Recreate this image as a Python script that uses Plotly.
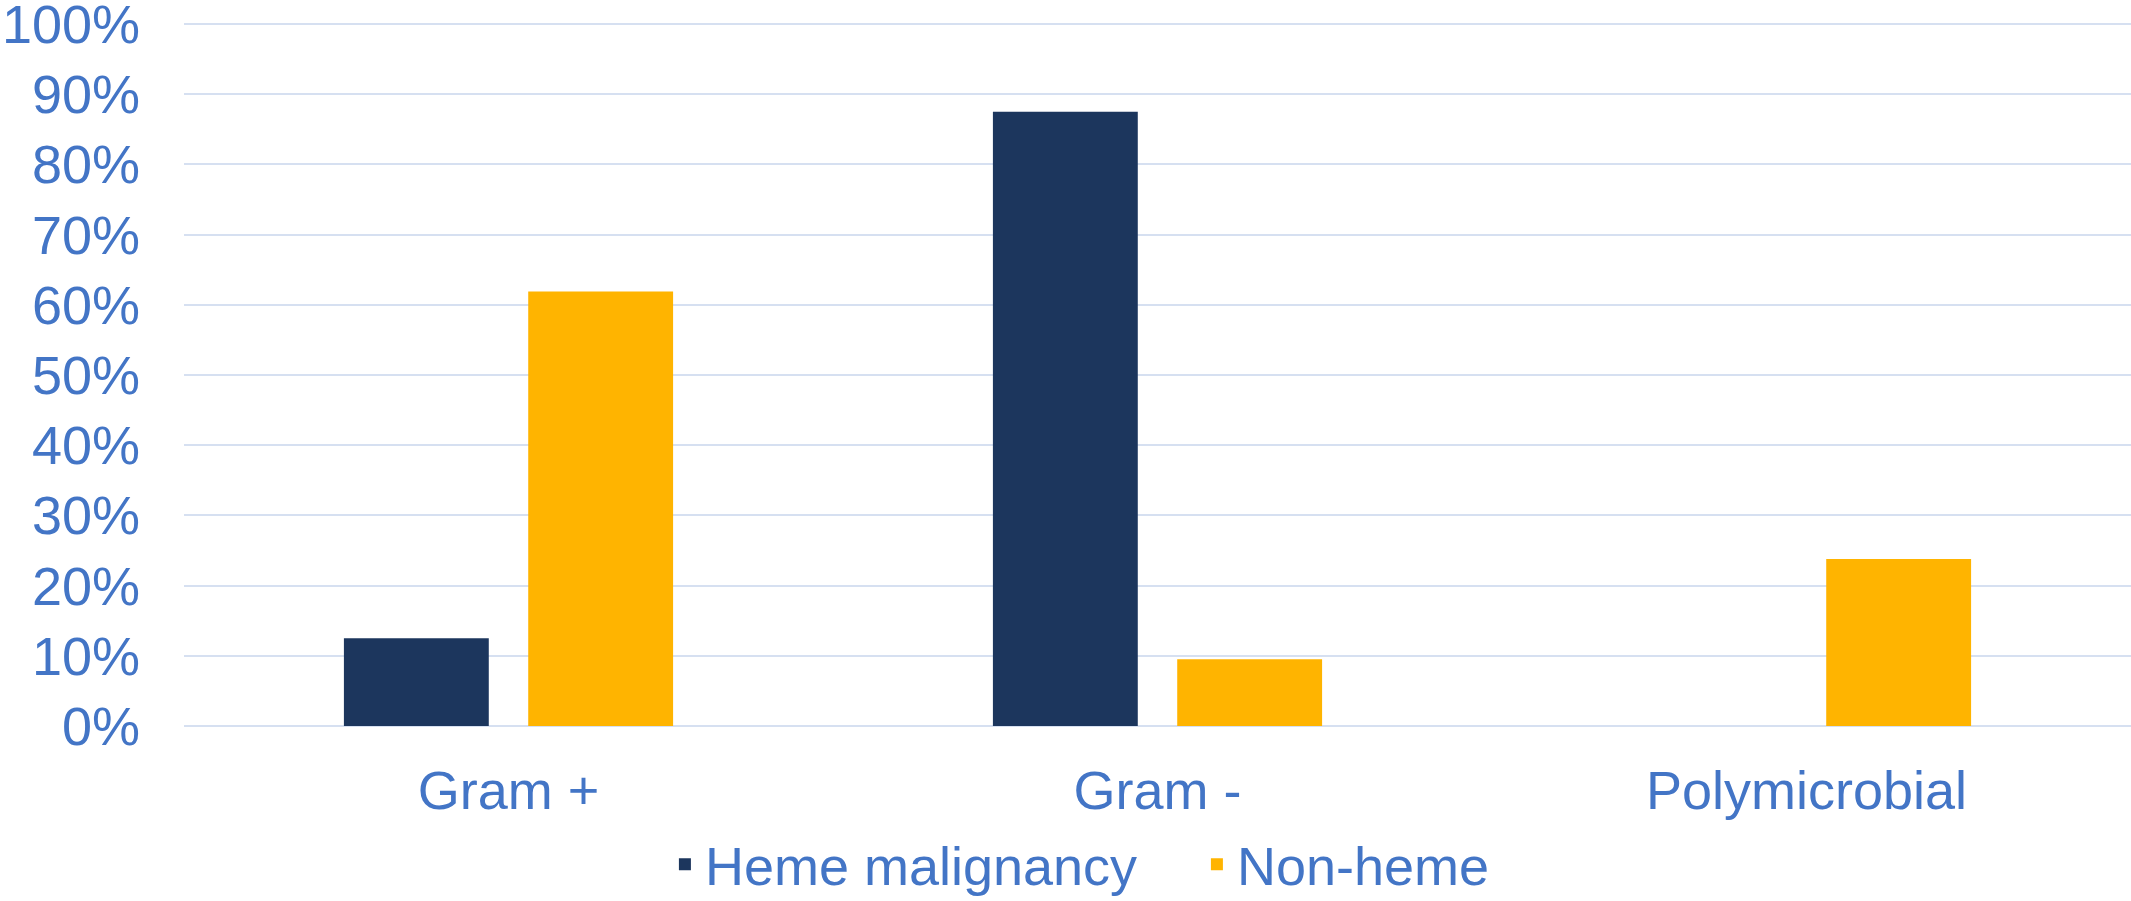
import plotly.graph_objects as go

categories = ["Gram +", "Gram -", "Polymicrobial"]
heme_values = [12.5, 87.5, 0.0]
nonheme_values = [61.9, 9.5, 23.8]
series_names = ["Heme malignancy", "Non-heme"]
y_ticks = list(range(0, 101, 10))

TEXT = "#4375C6"
GRID = "#D6E0F1"
FONT = "Liberation Sans, Arial, sans-serif"
FS = 54

fig = go.Figure()
fig.add_trace(go.Bar(
    x=categories, y=heme_values, name=series_names[0],
    marker=dict(color="#1C365D", line=dict(width=0)),
))
fig.add_trace(go.Bar(
    x=categories, y=nonheme_values, name=series_names[1],
    marker=dict(color="#FFB400", line=dict(width=0)),
))

fig.update_layout(
    width=2131, height=901,
    margin=dict(l=184, r=0, t=22, b=175, autoexpand=False),
    paper_bgcolor="white", plot_bgcolor="white",
    barmode="group", bargap=0.432, bargroupgap=0.214,
    font=dict(family=FONT, size=FS, color=TEXT),
    showlegend=True,
    legend=dict(
        orientation="h", x=0.247, xanchor="left", y=-0.197, yanchor="middle",
        font=dict(family=FONT, size=FS, color=TEXT),
        bgcolor="rgba(0,0,0,0)", entrywidth=487, entrywidthmode="pixels",
    ),
)
fig.update_xaxes(
    showgrid=False, showline=False, zeroline=False,
    tickfont=dict(family=FONT, size=FS, color=TEXT),
    ticks="", ticklabelstandoff=28,
)
fig.update_yaxes(
    range=[0, 100.3], tickvals=y_ticks, ticktext=[f"{v}%" for v in y_ticks],
    showgrid=True, gridcolor=GRID, gridwidth=2,
    zeroline=True, zerolinecolor=GRID, zerolinewidth=2,
    showline=False, ticks="", ticklabelstandoff=43, ticklabeloverflow="allow",
    tickfont=dict(family=FONT, size=FS, color=TEXT),
)

fig.write_html("out.html")
